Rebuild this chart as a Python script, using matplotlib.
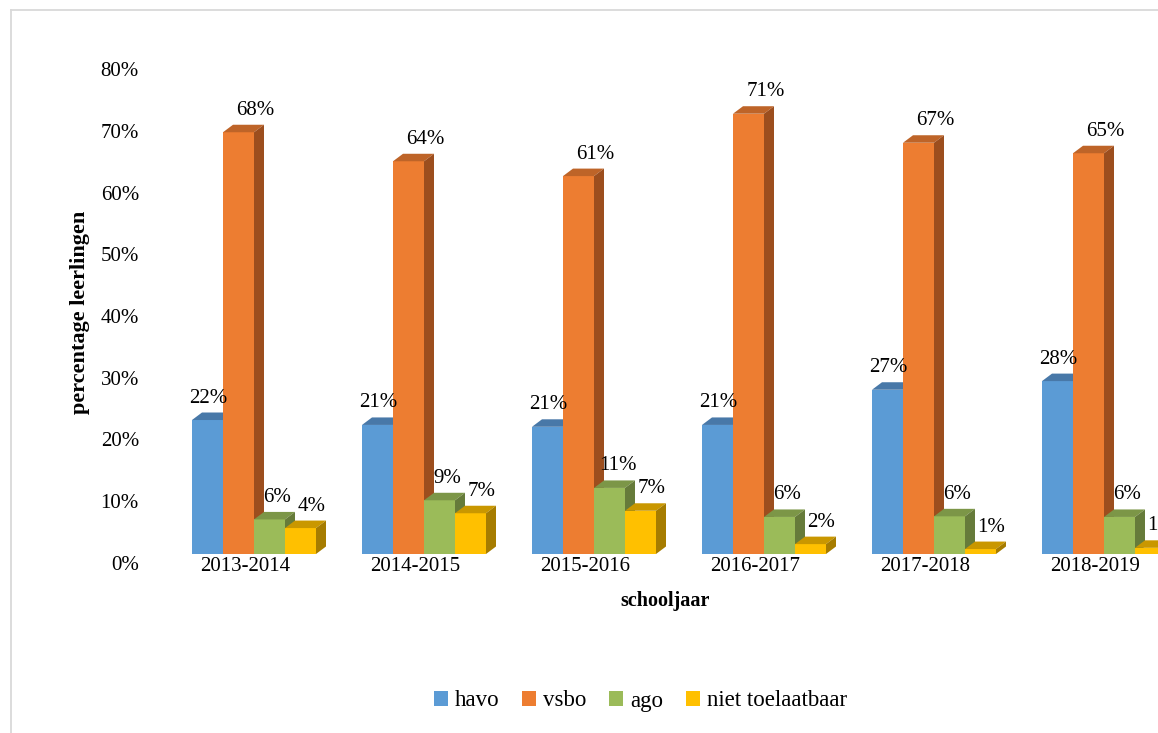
import matplotlib
matplotlib.use("Agg")
import matplotlib.pyplot as plt
import matplotlib.transforms as mtransforms
from matplotlib.patches import Polygon, Patch
from matplotlib.lines import Line2D
import numpy as np

# ---------------- data ----------------
years = ["2013-2014", "2014-2015", "2015-2016", "2016-2017", "2017-2018", "2018-2019"]
series = ["havo", "vsbo", "ago", "niet toelaatbaar"]
havo = [21.7, 20.9, 20.6, 20.9, 26.6, 28.0]
vsbo = [68.3, 63.6, 61.2, 71.3, 66.6, 64.9]
ago = [5.6, 8.7, 10.7, 6.0, 6.1, 6.0]
niet = [4.2, 6.6, 7.0, 1.6, 0.8, 1.0]
yticks = [0, 10, 20, 30, 40, 50, 60, 70, 80]

values = [havo, vsbo, ago, niet]

# ---------------- style ----------------
front_cols = ["#5B9BD5", "#ED7D31", "#9BBB59", "#FFC000"]
top_cols = ["#4878A8", "#BE6428", "#7C9647", "#C99700"]
side_cols = ["#3E6890", "#9C4E1E", "#667B3A", "#A67C00"]
label_dx_px = [1, 17, 8, 11]

W, H = 1158, 733
DPI = 100
FONT = "Liberation Serif"
plt.rcParams["font.family"] = [FONT, "DejaVu Serif"]

def fx(px):
    return px / W

def fy(py):
    return 1 - py / H

fig = plt.figure(figsize=(W / DPI, H / DPI), dpi=DPI)
fig.patch.set_facecolor("white")

# axes: y=0 at px 554, y=80 at px 60; group 0 centre at px 254, 170 px per group
ax_left, ax_right = 150, 1158
y0_px, y80_px = 554, 60
ax = fig.add_axes([fx(ax_left), fy(y0_px), (ax_right - ax_left) / W, (y0_px - y80_px) / H])
ax.set_ylim(0, 80)
gc0, gstep = 254, 170
ax.set_xlim((ax_left - gc0) / gstep, (ax_right - gc0) / gstep)
ax.patch.set_alpha(0)
for s in ax.spines.values():
    s.set_visible(False)

bw = 31 / gstep
dx = 10 / gstep
dy = 7.5 * 80 / (y0_px - y80_px)

x = np.arange(len(years))
for j, (vals, name) in enumerate(zip(values, series)):
    xs = x + (j - 1.5) * bw
    z = 2 + j * 0.1
    ax.bar(xs, vals, width=bw, color=front_cols[j], zorder=z, linewidth=0, label=name)
    for xc, v in zip(xs, vals):
        l, r = xc - bw / 2, xc + bw / 2
        top = Polygon([(l, v), (r, v), (r + dx, v + dy), (l + dx, v + dy)],
                      closed=True, facecolor=top_cols[j], edgecolor="none", zorder=z)
        side = Polygon([(r, 0), (r + dx, dy), (r + dx, v + dy), (r, v)],
                       closed=True, facecolor=side_cols[j], edgecolor="none", zorder=z)
        ax.add_patch(top)
        ax.add_patch(side)
        ax.annotate(f"{v:.0f}%", xy=(xc, v), xytext=(label_dx_px[j], 17.5),
                    textcoords="offset pixels", ha="center", va="baseline",
                    fontsize=15, color="black", zorder=5, annotation_clip=False)

# ticks
ax.set_yticks(yticks)
ax.set_yticklabels([f"{t}%" for t in yticks])
ax.set_xticks(x)
ax.set_xticklabels(years)
ax.tick_params(axis="both", length=0, labelsize=15, colors="black")
ax.tick_params(axis="y", pad=8)
ax.tick_params(axis="x", pad=2.5)

off_y = mtransforms.ScaledTranslation(0, -9 / DPI, fig.dpi_scale_trans)
for lbl in ax.get_yticklabels():
    lbl.set_transform(lbl.get_transform() + off_y)
off_x = mtransforms.ScaledTranslation(-9 / DPI, 0, fig.dpi_scale_trans)
for lbl in ax.get_xticklabels():
    lbl.set_transform(lbl.get_transform() + off_x)

# axis titles
fig.text(fx(80), fy(312), "percentage leerlingen", rotation=90, ha="center", va="center",
         fontsize=16, fontweight="bold", color="black")
fig.text(fx(665), fy(601), "schooljaar", ha="center", va="center",
         fontsize=14.5, fontweight="bold", color="black")

# legend
handles = [Patch(facecolor=c, edgecolor="none") for c in front_cols]
fig.legend(handles, series, loc="center", bbox_to_anchor=(fx(640.5), fy(701)),
           bbox_transform=fig.transFigure, ncol=4, frameon=False, fontsize=16.5,
           handlelength=0.6, handleheight=0.6, handletextpad=0.3, columnspacing=1.0)

# chart border (cropped on right and bottom)
fig.add_artist(Line2D([fx(11), fx(11)], [fy(10), 0], color="#d9d9d9", lw=1.3,
                      transform=fig.transFigure))
fig.add_artist(Line2D([fx(11), 1], [fy(10), fy(10)], color="#d9d9d9", lw=1.3,
                      transform=fig.transFigure))

fig.savefig("out.png", dpi=DPI)
